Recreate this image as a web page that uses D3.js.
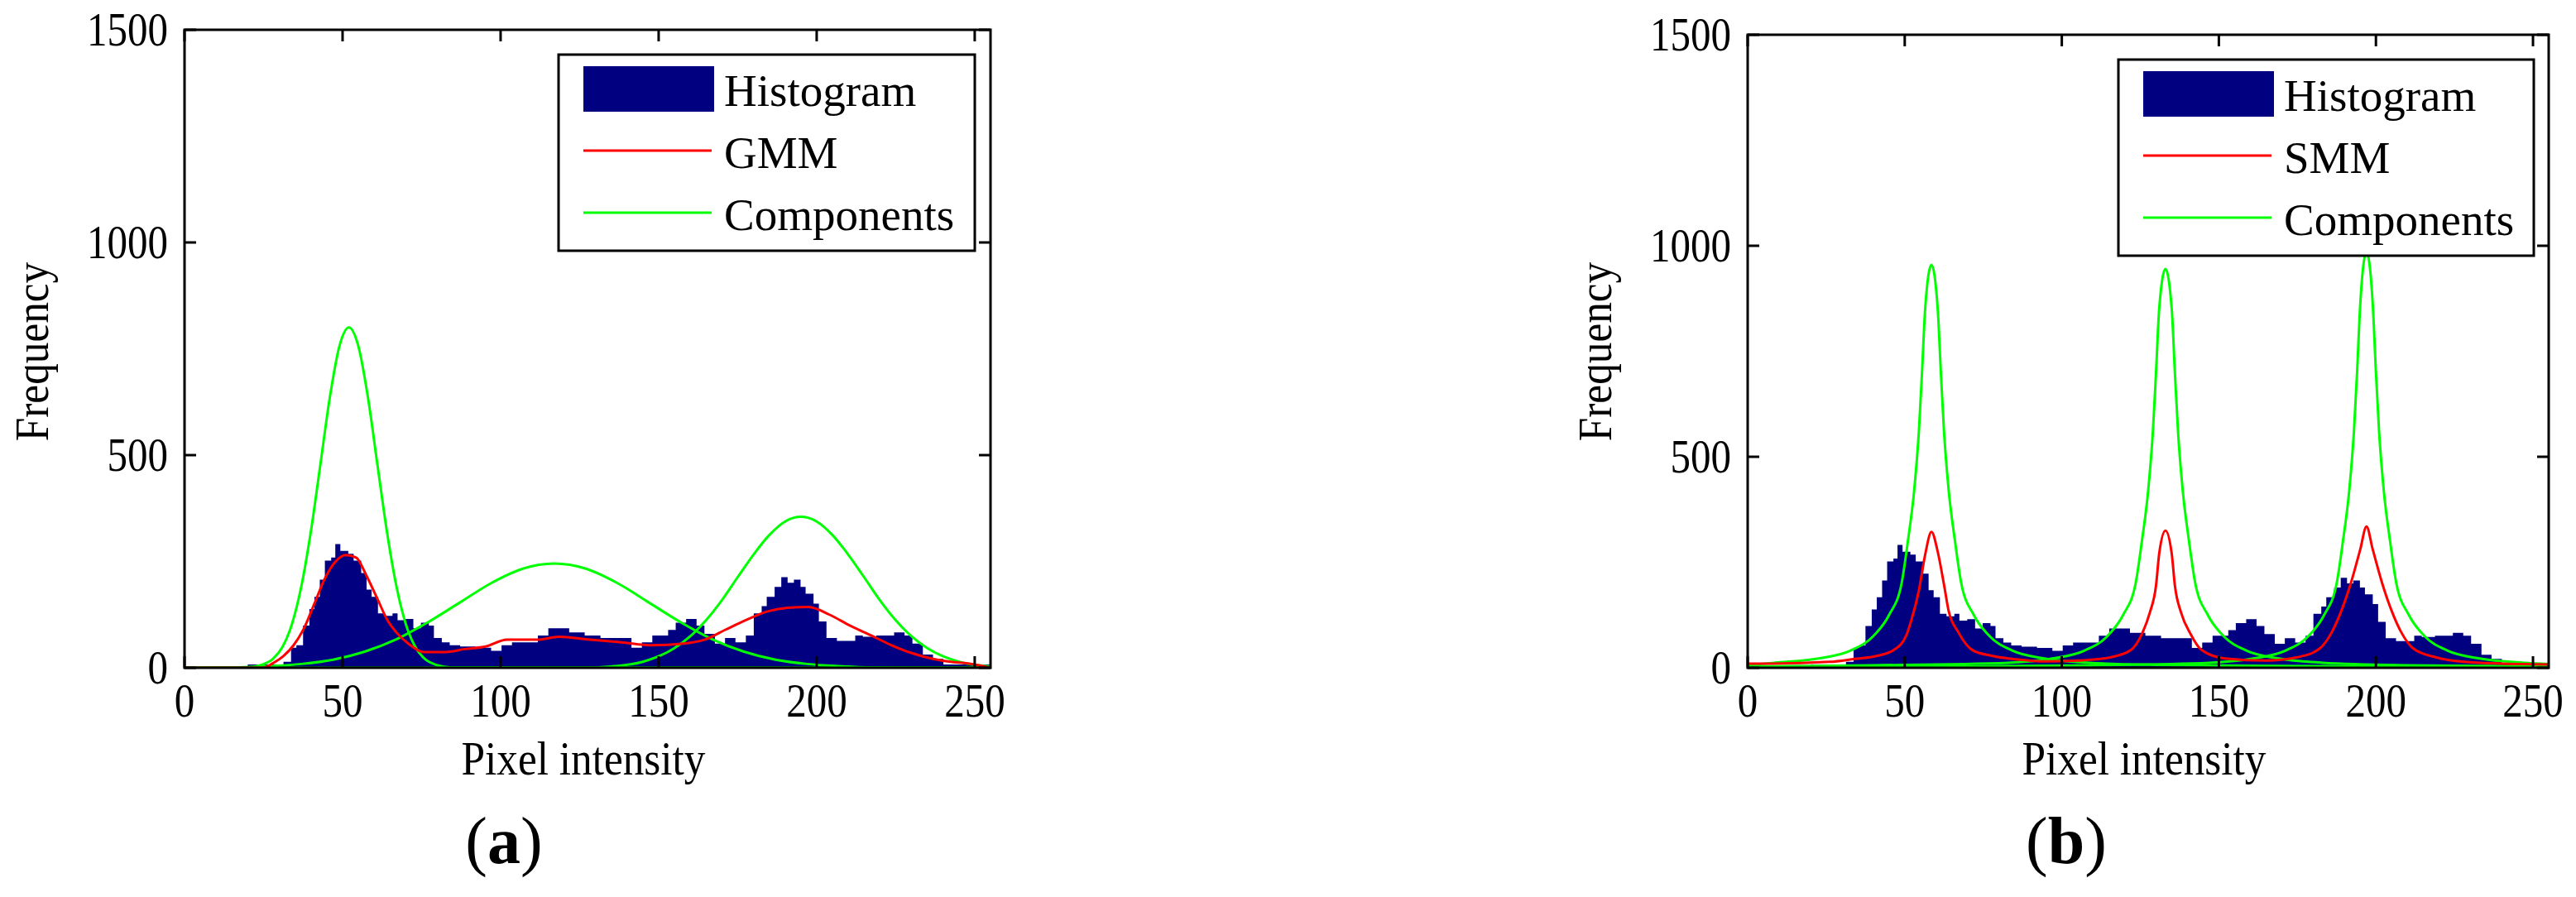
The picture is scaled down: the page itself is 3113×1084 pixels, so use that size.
<!DOCTYPE html>
<html>
<head>
<meta charset="utf-8">
<script src="https://cdn.jsdelivr.net/npm/d3@7"></script>
<style>
  body { margin: 0; background: #fff; }
  text { font-family: "Liberation Serif", "Times New Roman", serif; fill: #000; }
</style>
</head>
<body>
<svg id="chart" width="3113" height="1084"></svg>
<script>
// histogram (same image in both panels), step bins: left edge x, height
const histX = [0, 31.3, 33.7, 35.4, 37.5, 39.5, 41.1, 42.8, 44.4, 46.4, 47.7, 49.3, 51.8, 53.5, 55.9, 57.6, 59.2, 61.2, 63.3, 65.8, 67.4, 69.9, 72.4, 74.8, 77.3, 78.9, 81.4, 83.9, 87.2, 92.1, 97, 100.3, 103.6, 106.9, 111.8, 115.1, 118.4, 121.7, 126.6, 131.6, 138.2, 141.4, 144.7, 148, 153, 155.4, 158.7, 162, 164.5, 167.8, 171, 174.3, 177.6, 180.1, 182.6, 184.2, 186.7, 188.8, 190.8, 192.8, 194.9, 196.5, 199, 200.7, 203.1, 206.4, 209.7, 212.2, 214.6, 218.8, 222, 224.5, 227.8, 230.3, 233.6, 236.8, 240.1, 243.4, 246];
const histY = [0, 14, 47, 53, 99, 138, 167, 207, 252, 259, 291, 275, 268, 252, 223, 184, 167, 128, 122, 128, 112, 115, 93, 106, 99, 70, 60, 53, 50, 47, 40, 53, 60, 60, 76, 93, 93, 83, 76, 70, 70, 47, 60, 76, 89, 106, 115, 99, 80, 57, 70, 60, 76, 128, 145, 167, 190, 213, 200, 207, 190, 174, 151, 109, 70, 63, 63, 76, 73, 76, 76, 83, 76, 57, 31, 21, 8, 5, 0];

// (a) GMM fit
const gmmX = [0, 25, 28, 31.2, 34.5, 37.8, 41.1, 44.4, 47.7, 51, 54.3, 57.6, 60.9, 64.2, 67.4, 70.8, 75.7, 82.2, 88.7, 95.3, 102, 111.9, 118.4, 128.3, 138.2, 148, 157.9, 164.5, 171, 177.6, 184.2, 190.7, 197.4, 204, 210.6, 217.2, 223.7, 230.3, 236.8, 243.4, 246.8, 255];
const gmmY = [0, 0, 11, 27, 53, 93, 151, 210, 249, 265, 259, 216, 164, 112, 80, 57, 37, 37, 44, 50, 66, 66, 73, 66, 60, 53, 57, 66, 89, 112, 132, 141, 143, 125, 99, 76, 53, 34, 21, 13, 11, 0];
const gComp1X = [0, 20, 24, 28, 31, 34, 37, 40, 43, 46, 49, 52, 55, 58, 61, 64, 67, 70, 73, 76, 80, 84, 255];
const gComp1Y = [0, 1, 6, 21, 49, 103, 193, 322, 479, 637, 756, 800, 756, 637, 479, 322, 193, 103, 49, 21, 6, 1, 0];
const gComp2X = [0, 17, 27, 37, 47, 57, 67, 77, 87, 97, 107, 117, 127, 137, 147, 157, 167, 177, 187, 197, 207, 217, 255];
const gComp2Y = [0, 1, 4, 9, 19, 38, 67, 107, 153, 199, 233, 245, 233, 199, 153, 107, 67, 38, 19, 9, 4, 1, 0];
const gComp3X = [0, 125, 135, 145, 155, 160, 165, 170, 175, 180, 185, 190, 195, 200, 205, 210, 215, 220, 225, 230, 235, 245, 255];
const gComp3Y = [0, 0, 3, 14, 46, 74, 112, 159, 213, 266, 312, 344, 355, 344, 312, 266, 213, 159, 112, 74, 46, 14, 3];

// (b) SMM fit
const smmX = [0, 8, 26, 34, 41, 46.5, 50.5, 52, 54.5, 56.5, 58.5, 60.5, 62.5, 64, 67, 71.5, 78, 85.5, 95, 105, 115, 122, 125.5, 128, 130, 131, 133, 135, 136, 138, 141, 144.5, 152, 165, 175, 182, 186, 189, 192, 195, 197, 199, 202, 205, 208, 212, 219, 228, 240, 255];
const smmY = [10, 10, 14, 21, 28, 42, 77, 110, 183, 268, 322, 275, 197, 134, 85, 42, 28, 20, 15, 17, 24, 42, 80, 130, 195, 270, 325, 270, 195, 130, 80, 42, 22, 17, 25, 45, 85, 135, 200, 280, 335, 280, 200, 135, 85, 45, 25, 14, 10, 8];
const sComp1X = [0, 8.5, 22.5, 32.5, 40, 45, 49, 51, 53, 54.5, 55.5, 56.5, 58.5, 60.5, 61.5, 62.5, 64, 66, 68, 72, 77, 84.5, 94.5, 108.5, 130, 160, 200, 255];
const sComp1Y = [6, 12, 22, 40, 75, 125, 200, 300, 420, 560, 700, 850, 955, 850, 700, 560, 420, 300, 200, 125, 75, 40, 22, 12, 7, 5, 3, 2];
const sComp2X = [0, 40, 83, 97, 107, 114.5, 119.5, 123.5, 125.5, 127.5, 129, 130, 131, 133, 135, 136, 137, 138.5, 140.5, 142.5, 146.5, 151.5, 159, 169, 183, 210, 255];
const sComp2Y = [3, 6, 12, 22, 40, 75, 125, 200, 300, 420, 560, 700, 850, 945, 850, 700, 560, 420, 300, 200, 125, 75, 40, 22, 12, 6, 3];
const sComp3X = [0, 60, 110, 147, 161, 171, 178.5, 183.5, 187.5, 189.5, 191.5, 193, 194, 195, 197, 199, 200, 201, 202.5, 204.5, 206.5, 210.5, 215.5, 223, 233, 247, 255];
const sComp3Y = [2, 3, 6, 12, 22, 40, 75, 125, 200, 300, 420, 560, 700, 860, 985, 860, 700, 560, 420, 300, 200, 125, 75, 40, 22, 12, 9];

const xTicks = [0, 50, 100, 150, 200, 250];
const yTicks = [0, 500, 1000, 1500];

const svg = d3.select("#chart");
const zip = (xs, ys) => xs.map((x, i) => [x, ys[i]]);

// condensed text, like the stretched bitmap fonts of the original
function label(g, x, y, str, size, anchor, sx, rot) {
    return g.append("text")
        .attr("transform", "translate(" + x + "," + y + ")" + (rot ? " rotate(" + rot + ")" : "") + " scale(" + sx + ",1)")
        .attr("text-anchor", anchor).attr("font-size", size).text(str);
}

function drawPanel(p) {
    const x = d3.scaleLinear().domain([0, 255]).range([p.left, p.right]);
    const y = d3.scaleLinear().domain([0, 1500]).range([807, p.top]);
    const g = svg.append("g");

    g.append("clipPath").attr("id", p.id + "clip")
        .append("rect").attr("x", p.left).attr("y", p.top)
        .attr("width", p.right - p.left).attr("height", 807 - p.top);
    const plot = g.append("g").attr("clip-path", "url(#" + p.id + "clip)");

    plot.append("path")
        .datum(zip(histX, histY))
        .attr("fill", "#000080")
        .attr("d", d3.area().curve(d3.curveStepAfter)
            .x(d => x(d[0])).y0(y(0)).y1(d => y(d[1])));
    // baseline of the histogram
    plot.append("line").attr("x1", x(20)).attr("x2", x(255))
        .attr("y1", y(0) - 2).attr("y2", y(0) - 2)
        .attr("stroke", "#000080").attr("stroke-width", 4);

    const line = d3.line().curve(d3.curveMonotoneX).x(d => x(d[0])).y(d => y(d[1]));
    p.comps.forEach(c => {
        plot.append("path").datum(zip(c[0], c[1]))
            .attr("fill", "none").attr("stroke", "#00ff00").attr("stroke-width", 3)
            .attr("d", line);
    });
    plot.append("path").datum(zip(p.mixX, p.mixY))
        .attr("fill", "none").attr("stroke", "#ff0000").attr("stroke-width", 3)
        .attr("d", line);

    // frame and ticks (inward, mirrored)
    g.append("rect").attr("x", p.left).attr("y", p.top)
        .attr("width", p.right - p.left).attr("height", 807 - p.top)
        .attr("fill", "none").attr("stroke", "#000").attr("stroke-width", 3);
    xTicks.forEach(t => {
        g.append("line").attr("x1", x(t)).attr("x2", x(t)).attr("y1", 807).attr("y2", 793)
            .attr("stroke", "#000").attr("stroke-width", 3);
        g.append("line").attr("x1", x(t)).attr("x2", x(t)).attr("y1", p.top).attr("y2", p.top + 14)
            .attr("stroke", "#000").attr("stroke-width", 3);
        label(g, x(t), 866, t, 57, "middle", 0.86);
    });
    yTicks.forEach(t => {
        g.append("line").attr("x1", p.left).attr("x2", p.left + 14).attr("y1", y(t)).attr("y2", y(t))
            .attr("stroke", "#000").attr("stroke-width", 3);
        g.append("line").attr("x1", p.right).attr("x2", p.right - 14).attr("y1", y(t)).attr("y2", y(t))
            .attr("stroke", "#000").attr("stroke-width", 3);
        label(g, p.left - 20, y(t) + 19, t, 57, "end", 0.86);
    });

    label(g, (p.left + p.right) / 2 - 5, 936, "Pixel intensity", 57, "middle", 0.9);
    label(g, p.left - 165, 425, "Frequency", 57, "middle", 0.9, -90);
    const cap = g.append("text").attr("x", p.capX).attr("y", 1043)
        .attr("text-anchor", "middle").attr("font-size", 80);
    cap.append("tspan").text("(");
    cap.append("tspan").attr("font-weight", "bold").text(p.tag);
    cap.append("tspan").text(")");

    // legend
    const L = p.legend;
    g.append("rect").attr("x", L.x).attr("y", L.y).attr("width", L.w).attr("height", 237)
        .attr("fill", "#fff").attr("stroke", "#000").attr("stroke-width", 3);
    g.append("rect").attr("x", L.x + 30).attr("y", L.y + 14).attr("width", 158).attr("height", 55)
        .attr("fill", "#000080");
    g.append("line").attr("x1", L.x + 30).attr("x2", L.x + 185).attr("y1", L.y + 116).attr("y2", L.y + 116)
        .attr("stroke", "#ff0000").attr("stroke-width", 3);
    g.append("line").attr("x1", L.x + 30).attr("x2", L.x + 185).attr("y1", L.y + 191).attr("y2", L.y + 191)
        .attr("stroke", "#00ff00").attr("stroke-width", 3);
    p.names.forEach((n, i) => {
        g.append("text").attr("x", L.x + 200).attr("y", L.y + 62 + i * 75)
            .attr("font-size", 55).text(n);
    });
}

drawPanel({
    id: "a", tag: "a", left: 223, right: 1197, top: 36, capX: 609,
    mixX: gmmX, mixY: gmmY,
    comps: [[gComp1X, gComp1Y], [gComp2X, gComp2Y], [gComp3X, gComp3Y]],
    names: ["Histogram", "GMM", "Components"],
    legend: { x: 675, y: 66, w: 503 }
});
drawPanel({
    id: "b", tag: "b", left: 2112, right: 3080, top: 42, capX: 2497,
    mixX: smmX, mixY: smmY,
    comps: [[sComp1X, sComp1Y], [sComp2X, sComp2Y], [sComp3X, sComp3Y]],
    names: ["Histogram", "SMM", "Components"],
    legend: { x: 2560, y: 72, w: 502 }
});
</script>
</body>
</html>
